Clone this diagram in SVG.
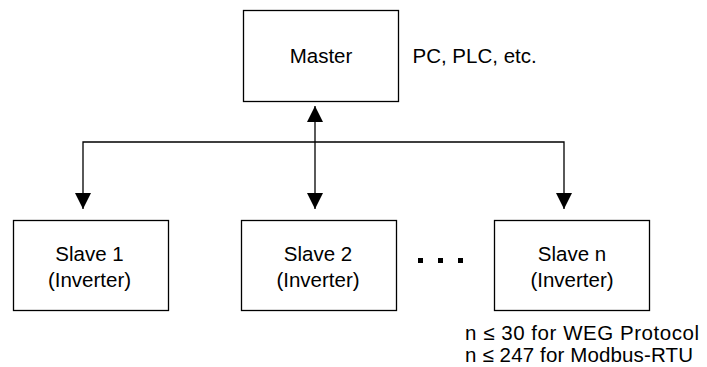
<svg xmlns="http://www.w3.org/2000/svg" width="707" height="367" viewBox="0 0 707 367">
<defs>
<marker id="ah" viewBox="0 0 16 16" refX="16" refY="8" markerWidth="16" markerHeight="16" markerUnits="userSpaceOnUse" orient="auto-start-reverse">
<path d="M0,0 L16,8 L0,16 Z" fill="#000"/>
</marker>
<style>
.box{fill:#fff;stroke:#000;stroke-width:1.3}
.t{font-family:"Liberation Sans",Arial,sans-serif;font-size:20.5px;fill:#000}
.c{text-anchor:middle}
.ln{fill:none;stroke:#000;stroke-width:1.3}
</style>
</defs>
<rect width="707" height="367" fill="#fff"/>
<g id="connectors">
<line class="ln" x1="315" y1="106" x2="315" y2="209" marker-start="url(#ah)" marker-end="url(#ah)"/>
<polyline class="ln" points="83,209 83,142 564,142 564,209" marker-start="url(#ah)" marker-end="url(#ah)"/>
</g>
<g id="master">
<rect class="box" x="243.5" y="10.5" width="155" height="91"/>
<text class="t c" x="321" y="63">Master</text>
</g>
<g id="master-note">
<text class="t" x="412.5" y="63">PC, PLC, etc.</text>
</g>
<g id="slave1">
<rect class="box" x="13.5" y="220.5" width="155" height="90"/>
<text class="t c" x="89.5" y="261">Slave 1</text>
<text class="t c" x="89.5" y="287">(Inverter)</text>
</g>
<g id="slave2">
<rect class="box" x="241.5" y="220.5" width="155" height="90"/>
<text class="t c" x="318" y="261">Slave 2</text>
<text class="t c" x="318" y="287">(Inverter)</text>
</g>
<g id="dots">
<rect x="418" y="258" width="5" height="5" fill="#000"/>
<rect x="438" y="258" width="5" height="5" fill="#000"/>
<rect x="458" y="258" width="5" height="5" fill="#000"/>
</g>
<g id="slaven">
<rect class="box" x="494.5" y="220.5" width="155" height="90"/>
<text class="t c" x="572" y="261">Slave n</text>
<text class="t c" x="572" y="287">(Inverter)</text>
</g>
<g id="limits">
<text class="t" x="465" y="340" textLength="234" lengthAdjust="spacing">n ≤ 30 for WEG Protocol</text>
<text class="t" x="465" y="362" textLength="228" lengthAdjust="spacing">n ≤ 247 for Modbus-RTU</text>
</g>
</svg>
